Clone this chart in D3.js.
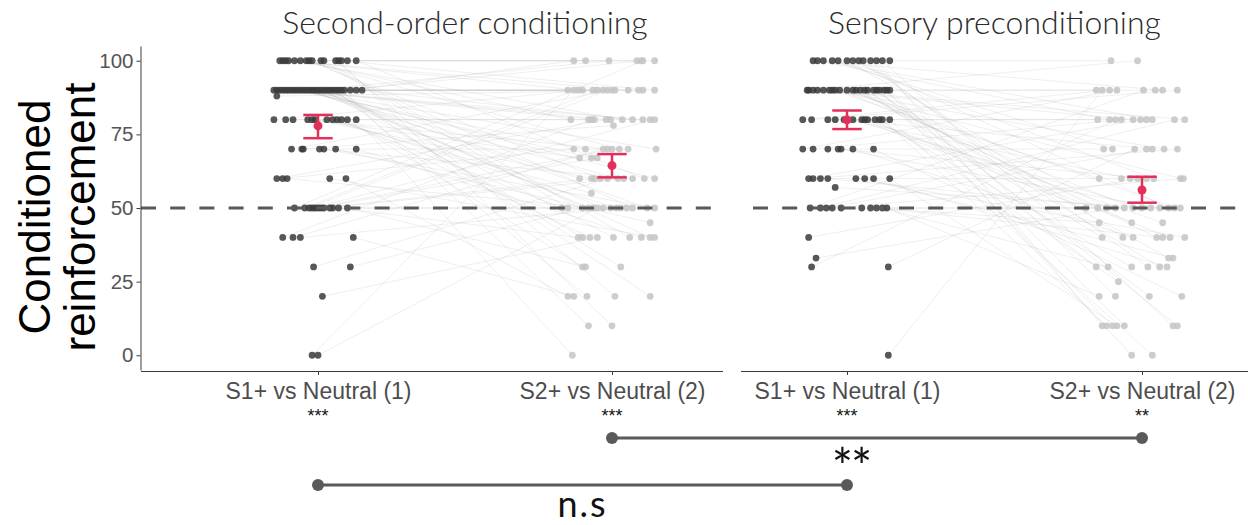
<!DOCTYPE html>
<html>
<head>
<meta charset="utf-8">
<script src="https://cdn.jsdelivr.net/npm/d3@7"></script>
<style>
  body { margin: 0; background: #fff; }
  svg { display: block; }
</style>
</head>
<body>
<svg id="chart" width="1248" height="525"></svg>
<script>
// ---- data ----
const categories = ["S1+ vs Neutral (1)", "S2+ vs Neutral (2)"];
const panelTitles = ["Second-order conditioning", "Sensory preconditioning"];
const yTicks = [0, 25, 50, 75, 100];
const chanceLevel = 50;
const yLabelLines = ["Conditioned", "reinforcement"];

// per-participant ratings (paired: index i is the same participant in S1 and S2)
const secondOrderS1 = [
  100,100,100,100,100,100,100,100,100,100,100,100,100,100,100,100,
  90,90,90,90,90,90,90,90,90,90,90,90,90,90,90,90,90,90,90,90,90,90,90,90,90,90,90,90,
  88,
  80,80,80,80,80,80,80,80,80,80,80,80,
  70,70,70,70,70,70,70,
  60,60,60,60,60,
  50,50,50,50,50,50,50,50,50,50,50,50,
  40,40,40,40,
  30,30,20,0,0
];
const secondOrderS2 = [
  100,100,90,90,80,80,70,60,50,50,40,20,10,90,100,60,
  90,90,90,90,80,80,80,70,70,67,60,60,60,50,100,50,50,40,40,40,30,20,20,10,100,100,90,80,
  90,
  90,80,80,70,67,60,55,50,50,40,30,0,
  90,78,70,60,50,45,40,
  80,70,50,40,20,
  100,90,90,80,70,67,60,60,50,50,40,30,
  80,70,50,20,
  60,50,40,90,50
];
// horizontal jitter, in category units
const secondOrderJitter1 = [
  -0.13,-0.12,-0.11,-0.10,-0.08,-0.06,-0.04,-0.03,-0.02,0.01,0.02,0.06,0.07,0.08,0.10,0.13,
  -0.15,-0.14,-0.13,-0.12,-0.11,-0.10,-0.09,-0.08,-0.07,-0.06,-0.05,-0.04,-0.03,-0.02,-0.01,0.00,0.01,0.02,0.03,0.04,0.05,0.06,0.07,0.08,0.09,0.11,0.13,0.15,
  -0.14,
  -0.15,-0.11,-0.085,-0.035,-0.02,-0.01,0.03,0.05,0.065,0.08,0.10,0.13,
  -0.09,-0.055,-0.05,0.005,0.02,0.06,0.13,
  -0.14,-0.12,-0.105,0.04,0.095,
  -0.08,-0.045,-0.03,-0.02,-0.01,0.00,0.01,0.02,0.04,0.05,0.07,0.10,
  -0.12,-0.085,-0.06,0.12,
  -0.015,0.11,0.015,-0.02,0.00
];
const secondOrderJitter2 = [
  0.085,-0.09,0.055,-0.115,0.035,-0.14,0.025,-0.04,0.07,-0.15,0.06,0.01,0.00,0.145,0.145,0.11,
  -0.03,0.09,-0.15,0.01,-0.06,0.105,-0.005,-0.09,0.15,-0.07,0.02,-0.11,0.145,-0.03,-0.01,0.12,-0.08,-0.10,0.13,0.005,0.03,-0.085,0.13,-0.08,0.10,-0.13,-0.065,0.07,
  0.105,
  -0.10,-0.08,0.13,-0.015,-0.11,-0.07,-0.07,0.015,-0.17,-0.075,-0.10,-0.135,
  0.00,0.005,0.055,0.07,0.145,0.13,0.10,
  -0.02,-0.13,-0.065,0.145,-0.15,
  0.105,-0.05,-0.015,0.145,0.00,-0.05,-0.06,0.04,0.05,-0.005,-0.115,-0.09,
  -0.07,-0.03,0.03,-0.13,
  -0.015,-0.10,-0.05,-0.13,-0.05
];

const sensoryS1 = [
  100,100,100,100,100,100,100,100,100,100,100,100,100,
  90,90,90,90,90,90,90,90,90,90,90,90,90,90,90,90,90,90,90,90,90,
  80,80,80,80,80,80,80,80,80,80,80,80,80,80,
  70,70,70,70,70,70,70,
  60,60,60,60,60,60,60,60,
  57,
  50,50,50,50,50,50,50,50,50,50,
  40,33,30,30,0
];
const sensoryS2 = [
  90,80,80,70,60,50,50,40,30,20,10,10,100,
  100,90,90,80,80,70,60,60,50,50,45,40,40,33,30,30,20,10,10,0,10,
  90,90,80,80,70,60,50,50,45,40,30,25,10,0,
  90,80,70,60,50,40,20,
  80,70,60,50,40,33,30,10,
  50,
  90,80,70,60,50,50,45,40,30,20,
  60,50,80,70,90
];
const sensoryJitter1 = [
  -0.115,-0.10,-0.08,-0.05,-0.03,0.00,0.02,0.04,0.055,0.08,0.10,0.12,0.145,
  -0.135,-0.13,-0.115,-0.10,-0.08,-0.06,-0.05,-0.04,-0.025,0.00,0.02,0.03,0.045,0.06,0.07,0.09,0.10,0.11,0.125,0.135,0.145,
  -0.15,-0.12,-0.065,-0.04,-0.01,0.00,0.02,0.05,0.06,0.07,0.095,0.11,0.12,0.145,
  -0.15,-0.115,-0.065,-0.03,-0.02,0.02,0.09,
  -0.13,-0.115,-0.09,-0.065,0.03,0.06,0.09,0.145,
  -0.04,
  -0.125,-0.09,-0.07,-0.05,-0.02,0.05,0.08,0.10,0.12,0.135,
  -0.13,-0.105,-0.12,0.14,0.14
];
const sensoryJitter2 = [
  0.07,-0.11,0.035,-0.10,0.04,-0.12,0.09,-0.065,0.02,-0.09,-0.135,0.105,-0.105,
  -0.015,-0.155,0.045,-0.03,0.145,0.075,-0.145,0.13,-0.03,0.11,-0.035,0.05,-0.135,0.09,-0.155,0.06,0.025,-0.10,0.12,-0.035,-0.06,
  -0.11,0.12,-0.15,0.015,0.035,-0.04,0.00,-0.19,0.07,0.095,-0.035,-0.08,-0.12,0.035,
  -0.085,-0.07,-0.13,0.015,0.06,-0.03,0.135,
  -0.005,0.12,-0.07,-0.06,0.145,0.105,0.085,-0.085,
  0.03,
  0.005,0.11,0.015,0.14,-0.15,0.13,-0.145,0.07,-0.115,-0.145,
  -0.015,-0.09,-0.09,-0.025,-0.135
];

// group means with error-bar limits, per category
const secondOrderMean  = [77.9, 64.4];
const secondOrderLower = [73.7, 60.4];
const secondOrderUpper = [81.6, 68.3];
const sensoryMean  = [79.9, 56.1];
const sensoryLower = [76.8, 51.8];
const sensoryUpper = [83.1, 60.6];

// significance against chance, per panel and category
const secondOrderSig = ["***", "***"];
const sensorySig = ["***", "**"];

// between-procedure comparisons: category index and label
const comparisonCategory = [2, 1];
const comparisonLabels = ["**", "n.s"];

// ---- drawing ----
const svg = d3.select("#chart");
const y = d3.scaleLinear().domain([-5, 105]).range([370, 46]);

const panels = [
  { title: panelTitles[0], s1: secondOrderS1, s2: secondOrderS2, j1: secondOrderJitter1, j2: secondOrderJitter2,
    mean: secondOrderMean, lower: secondOrderLower, upper: secondOrderUpper, sig: secondOrderSig,
    x: d3.scaleLinear().domain([1, 2]).range([318, 612]), left: 141, right: 723, dashStart: 141 },
  { title: panelTitles[1], s1: sensoryS1, s2: sensoryS2, j1: sensoryJitter1, j2: sensoryJitter2,
    mean: sensoryMean, lower: sensoryLower, upper: sensoryUpper, sig: sensorySig,
    x: d3.scaleLinear().domain([1, 2]).range([847, 1142]), left: 741, right: 1248, dashStart: 753 }
];

const accent = "#e3305a";
const axisColor = "#3a3a3a";

panels.forEach((p, pi) => {
  const g = svg.append("g");
  const x = p.x;
  const participants = p.s1.map((v, i) => ({ a: v, b: p.s2[i], ja: p.j1[i], jb: p.j2[i] }));

  // paired lines
  g.append("g").selectAll("line").data(participants).join("line")
    .attr("x1", d => x(1 + d.ja)).attr("y1", d => y(d.a))
    .attr("x2", d => x(2 + d.jb)).attr("y2", d => y(d.b))
    .attr("stroke", "#a6a6a6").attr("stroke-opacity", 0.2).attr("stroke-width", 0.9);

  // S2 points (light)
  g.append("g").selectAll("circle").data(participants).join("circle")
    .attr("cx", d => x(2 + d.jb)).attr("cy", d => y(d.b)).attr("r", 3.4)
    .attr("fill", "#c4c4c4").attr("fill-opacity", 0.85);

  // S1 points (dark)
  g.append("g").selectAll("circle").data(participants).join("circle")
    .attr("cx", d => x(1 + d.ja)).attr("cy", d => y(d.a)).attr("r", 3.4)
    .attr("fill", "#3a3a3a").attr("fill-opacity", 0.85);

  // chance level
  g.append("line")
    .attr("x1", p.dashStart).attr("x2", p.right)
    .attr("y1", y(chanceLevel)).attr("y2", y(chanceLevel))
    .attr("stroke", "#595959").attr("stroke-width", 3)
    .attr("stroke-dasharray", "15,14.2");

  // means and error bars
  const summary = [1, 2].map((c, i) => ({ c, m: p.mean[i], lo: p.lower[i], hi: p.upper[i] }));
  const eb = g.append("g").selectAll("g").data(summary).join("g");
  eb.append("line")
    .attr("x1", d => x(d.c)).attr("x2", d => x(d.c))
    .attr("y1", d => y(d.lo)).attr("y2", d => y(d.hi))
    .attr("stroke", accent).attr("stroke-width", 2.5);
  ["lo", "hi"].forEach(k => {
    eb.append("line")
      .attr("x1", d => x(d.c - 0.05)).attr("x2", d => x(d.c + 0.05))
      .attr("y1", d => y(d[k])).attr("y2", d => y(d[k]))
      .attr("stroke", accent).attr("stroke-width", 2.5);
  });
  eb.append("circle")
    .attr("cx", d => x(d.c)).attr("cy", d => y(d.m)).attr("r", 4.5)
    .attr("fill", accent);

  // x axis
  const xAxis = g.append("g").attr("transform", "translate(0,371)")
    .call(d3.axisBottom(x).tickValues([1, 2]).tickFormat(c => categories[c - 1]).tickSize(4).tickSizeOuter(0));
  xAxis.select(".domain").attr("d", `M${p.left},0.5H${p.right}`).attr("stroke", axisColor);
  xAxis.selectAll(".tick line").attr("stroke", axisColor);
  xAxis.selectAll(".tick text")
    .attr("y", 12)
    .attr("fill", "#4d4d4d")
    .style("font-family", "'Liberation Sans', Arial, sans-serif")
    .style("font-size", "23px");

  // significance stars
  g.append("g").selectAll("text").data(p.sig).join("text")
    .attr("x", (s, i) => x(i + 1)).attr("y", 422)
    .attr("text-anchor", "middle")
    .style("font-family", "'Liberation Sans', Arial, sans-serif")
    .style("font-size", "18px")
    .attr("fill", "#111")
    .text(s => s);

  // panel title
  g.append("text")
    .attr("x", (x(1) + x(2)) / 2).attr("y", 34)
    .attr("text-anchor", "middle")
    .style("font-family", "Lato, 'Open Sans', sans-serif")
    .style("font-weight", 300)
    .style("font-size", "32px")
    .attr("fill", "#2b2b2b")
    .text(p.title);

  // y axis (first panel only)
  if (pi === 0) {
    const yAxis = g.append("g").attr("transform", `translate(${p.left - 0.5},0)`)
      .call(d3.axisLeft(y).tickValues(yTicks).tickSize(4).tickSizeOuter(0));
    yAxis.select(".domain").attr("stroke", axisColor);
    yAxis.selectAll(".tick line").attr("stroke", axisColor);
    yAxis.selectAll(".tick text")
      .attr("fill", "#555")
      .style("font-family", "'Liberation Sans', Arial, sans-serif")
      .style("font-size", "20.5px");
  }
});

// y axis title
svg.append("g").selectAll("text").data(yLabelLines).join("text")
  .attr("transform", (t, i) => `translate(${50 + i * 45},217) rotate(-90)`)
  .attr("text-anchor", "middle")
  .style("font-family", "'Liberation Sans', Arial, sans-serif")
  .style("font-size", "44px")
  .attr("fill", "#000")
  .text(t => t);

// comparisons between the two procedures
const compY = [438, 485];
const compLabelX = [panels[1].x(1) + 4, null];
const compLabelY = [485, 517];
const compLabelSize = [50, 36];
const compLabelSpacing = [-2, 2];
comparisonCategory.forEach((c, i) => {
  const x1 = panels[0].x(c), x2 = panels[1].x(c);
  const g = svg.append("g");
  g.append("line").attr("x1", x1).attr("x2", x2).attr("y1", compY[i]).attr("y2", compY[i])
    .attr("stroke", "#5a5a5a").attr("stroke-width", 3);
  g.selectAll("circle").data([x1, x2]).join("circle")
    .attr("cx", d => d).attr("cy", compY[i]).attr("r", 6).attr("fill", "#5a5a5a");
  g.append("text")
    .attr("x", compLabelX[i] !== null ? compLabelX[i] : (x1 + x2) / 2)
    .attr("y", compLabelY[i])
    .attr("text-anchor", "middle")
    .style("font-family", "Lato, 'Open Sans', sans-serif")
    .style("font-weight", 400)
    .style("font-size", compLabelSize[i] + "px")
    .style("letter-spacing", compLabelSpacing[i] + "px")
    .attr("fill", "#111")
    .text(comparisonLabels[i]);
});
</script>
</body>
</html>
